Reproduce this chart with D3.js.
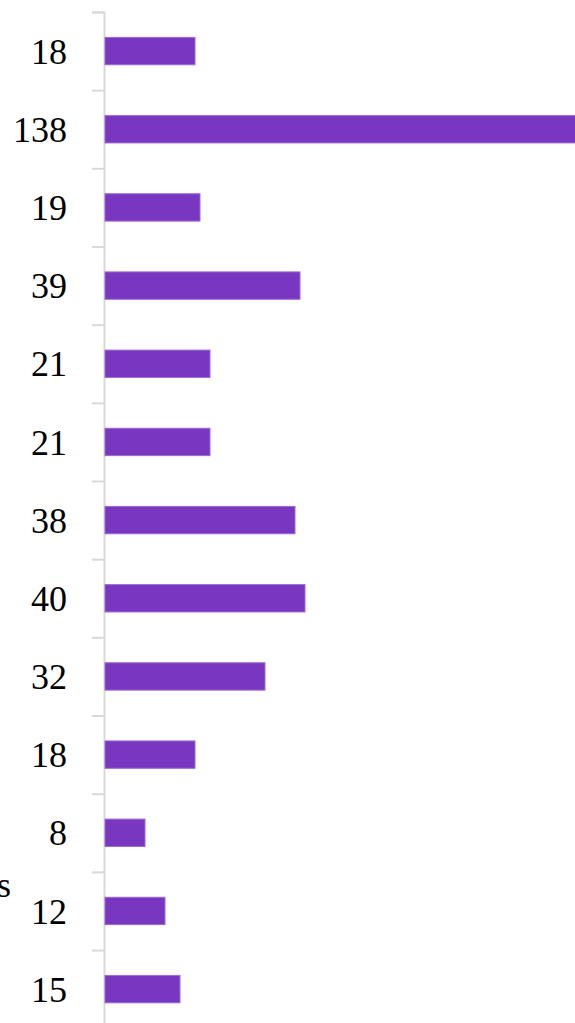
<!DOCTYPE html>
<html>
<head>
<meta charset="utf-8">
<script src="https://cdn.jsdelivr.net/npm/d3@7"></script>
<style>
  body { margin: 0; background: #fff; overflow: hidden; }
  svg { display: block; }
  .tickLabel { font-family: "Liberation Serif", "DejaVu Serif", serif; font-size: 36px; fill: #000; }
</style>
</head>
<body>
<div id="chart"></div>
<script>
// data, top to bottom
var labels = ["18", "138", "19", "39", "21", "21", "38", "40", "32", "18", "8", "12", "15"];
var values = [18, 138, 19, 39, 21, 21, 38, 40, 32, 18, 8, 12, 15];
var axisTitle = "Values";

var width = 575;
var height = 1023;
var axisX = 104;
var marginTop = 12;
var step = 78.17;

var svg = d3.select("#chart").append("svg")
    .attr("width", width)
    .attr("height", height);

var yScale = d3.scaleBand()
    .domain(d3.range(values.length))
    .range([marginTop, marginTop + step * values.length])
    .paddingInner(0.65)
    .paddingOuter(0.325);

// plot area runs past the right edge of the window
var xScale = d3.scaleLinear()
    .domain([0, 138])
    .range([axisX + 1, axisX + 1 + 5.0 * 138]);

// boundary ticks between categories
var boundScale = d3.scaleLinear()
    .domain([0, values.length])
    .range([marginTop, marginTop + step * values.length]);

var bounds = svg.append("g")
    .attr("transform", "translate(" + axisX + ",0)")
    .call(d3.axisLeft(boundScale)
        .tickValues(d3.range(values.length + 1))
        .tickSize(12)
        .tickFormat(""));
bounds.select(".domain").attr("stroke", "#d9d9d9").attr("stroke-width", 2);
bounds.selectAll(".tick line").attr("stroke", "#d9d9d9").attr("stroke-width", 2);

svg.selectAll("rect.bar")
    .data(values)
    .enter()
    .append("rect")
    .attr("class", "bar")
    .attr("x", xScale(0))
    .attr("y", function(d, i) { return yScale(i); })
    .attr("width", function(d) { return xScale(d) - xScale(0); })
    .attr("height", yScale.bandwidth())
    .attr("fill", "#7936c1")
    .attr("stroke", "#9c6ad6")
    .attr("stroke-width", 1);

svg.selectAll("text.tickLabel")
    .data(labels)
    .enter()
    .append("text")
    .attr("class", "tickLabel")
    .attr("x", 67)
    .attr("y", function(d, i) { return yScale(i) + yScale.bandwidth() / 2; })
    .attr("dy", "0.35em")
    .attr("text-anchor", "end")
    .text(function(d) { return d; });

// axis title, mostly cut off at the left edge
svg.append("text")
    .attr("class", "tickLabel")
    .attr("x", 11)
    .attr("y", 897)
    .attr("text-anchor", "end")
    .text(axisTitle);
</script>
</body>
</html>
